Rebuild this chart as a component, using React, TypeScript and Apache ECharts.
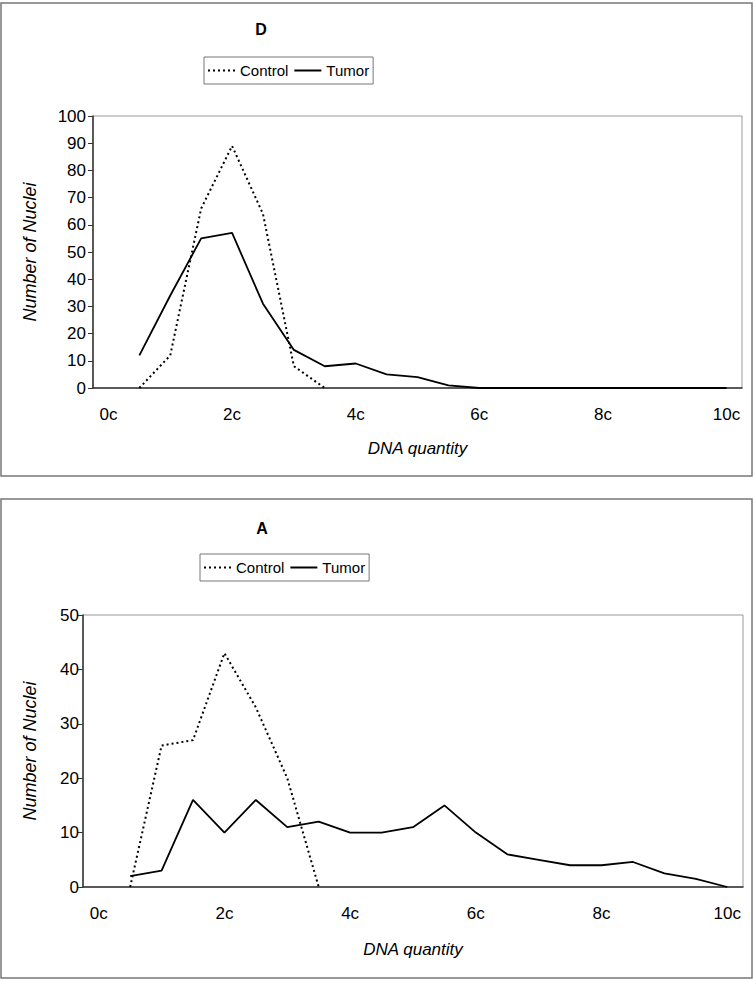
import React, { useEffect, useRef } from "react";
import * as echarts from "echarts";

// DNA quantity categories (in c units), 0c .. 10c in steps of 0.5c
const dnaLevels = [
  "0", "0.5", "1", "1.5", "2", "2.5", "3", "3.5", "4", "4.5", "5",
  "5.5", "6", "6.5", "7", "7.5", "8", "8.5", "9", "9.5", "10",
];

// Panel D
const controlD = [null, 0, 12, 66, 89, 64, 8, 0, null, null, null, null, null, null, null, null, null, null, null, null, null];
const tumorD = [null, 12, 34, 55, 57, 31, 14, 8, 9, 5, 4, 1, 0, 0, 0, 0, 0, 0, 0, 0, 0];

// Panel A
const controlA = [null, 0, 26, 27, 43, 33, 20, 0, null, null, null, null, null, null, null, null, null, null, null, null, null];
const tumorA = [null, 2, 3, 16, 10, 16, 11, 12, 10, 10, 11, 15, 10, 6, 5, 4, 4, 4.6, 2.5, 1.5, 0];

const panelTitles = ["D", "A"];
const seriesNames = ["Control", "Tumor"];

const FONT = "'Liberation Sans', Arial, sans-serif";

export default function App() {
  const ref = useRef<HTMLDivElement>(null);

  useEffect(() => {
    if (!ref.current) return;
    const chart = echarts.init(ref.current, undefined, { renderer: "svg" });

    const grids = [
      { left: 93, right: 11, top: 116, height: 272 },
      { left: 83, right: 10, top: 615, height: 272 },
    ];
    const yMax = [100, 50];
    const yTickMargin = [7, 4];
    const yNameGap = [54, 44];
    const xNameGap = [52, 54];
    const legendPos = [
      { left: 204, top: 57 },
      { left: 200, top: 554 },
    ];
    const titlePos = [
      { x: 261, y: 29 },
      { x: 262, y: 528 },
    ];
    const boxes = [
      { x: 1, y: 3, width: 751, height: 473 },
      { x: 1, y: 499, width: 751, height: 479 },
    ];

    const xAxes = [0, 1].map((i) => ({
      type: "category",
      gridIndex: i,
      data: dnaLevels,
      boundaryGap: true,
      axisLine: { lineStyle: { color: "#333", width: 1.5 } },
      axisTick: { show: false },
      axisLabel: {
        interval: 3,
        formatter: (v: string) => `${v}c`,
        color: "#000",
        fontSize: 17,
        fontFamily: FONT,
        margin: 18,
      },
      name: "DNA quantity",
      nameLocation: "middle",
      nameGap: xNameGap[i],
      nameTextStyle: { fontStyle: "italic", fontSize: 17, fontFamily: FONT, color: "#000" },
      splitLine: { show: false },
    }));

    const yAxes = [0, 1].map((i) => ({
      type: "value",
      gridIndex: i,
      min: 0,
      max: yMax[i],
      interval: 10,
      axisLine: { show: true, lineStyle: { color: "#333", width: 1.5 } },
      axisTick: { show: true, length: 5, lineStyle: { color: "#333" } },
      axisLabel: { color: "#000", fontSize: 17, fontFamily: FONT, margin: yTickMargin[i] },
      splitLine: { show: false },
      name: "Number of Nuclei",
      nameLocation: "middle",
      nameRotate: 90,
      nameGap: yNameGap[i],
      nameTextStyle: { fontStyle: "italic", fontSize: 18, fontFamily: FONT, color: "#000" },
    }));

    const controlLine = { color: "#000", width: 2, type: [2, 3] as any };
    const tumorLine = { color: "#000", width: 1.8, type: "solid" };

    const dataSets = [
      [controlD, tumorD],
      [controlA, tumorA],
    ];
    const series: any[] = [];
    [0, 1].forEach((i) => {
      series.push({
        name: seriesNames[0],
        type: "line",
        xAxisIndex: i,
        yAxisIndex: i,
        data: dataSets[i][0],
        showSymbol: false,
        symbol: "none",
        connectNulls: false,
        lineStyle: controlLine,
        itemStyle: { color: "#000" },
        z: 3,
      });
      series.push({
        name: seriesNames[1],
        type: "line",
        xAxisIndex: i,
        yAxisIndex: i,
        data: dataSets[i][1],
        showSymbol: false,
        symbol: "none",
        connectNulls: false,
        lineStyle: tumorLine,
        itemStyle: { color: "#000" },
        z: 2,
      });
    });

    const legends = [0, 1].map((i) => ({
      left: legendPos[i].left,
      top: legendPos[i].top,
      orient: "horizontal",
      data: seriesNames,
      borderColor: "#777",
      borderWidth: 1,
      borderRadius: 0,
      padding: [6, 4, 6, 3],
      itemWidth: 27,
      itemHeight: 14,
      itemGap: 5,
      selectedMode: false,
      itemStyle: { opacity: 0 },
      textStyle: { fontFamily: FONT, fontSize: 15, color: "#000" },
    }));

    const graphic: any[] = [];
    [0, 1].forEach((i) => {
      graphic.push({
        type: "rect",
        shape: boxes[i],
        style: { fill: "none", stroke: "#777", lineWidth: 1.5 },
        silent: true,
        z: -1,
      });
      graphic.push({
        type: "text",
        x: titlePos[i].x,
        y: titlePos[i].y,
        style: {
          text: panelTitles[i],
          fontFamily: FONT,
          fontWeight: "bold",
          fontSize: 16,
          fill: "#000",
          textAlign: "center",
          textVerticalAlign: "middle",
        },
      });
    });

    chart.setOption({
      animation: false,
      backgroundColor: "#fff",
      grid: grids.map((g) => ({ ...g, show: true, borderColor: "#999", borderWidth: 1, backgroundColor: "#fff" })),
      xAxis: xAxes,
      yAxis: yAxes,
      legend: legends,
      series,
      graphic,
    });

    return () => chart.dispose();
  }, []);

  return (
    <div
      ref={ref}
      style={{ position: "absolute", left: 0, top: 0, width: 753, height: 981 }}
    />
  );
}
